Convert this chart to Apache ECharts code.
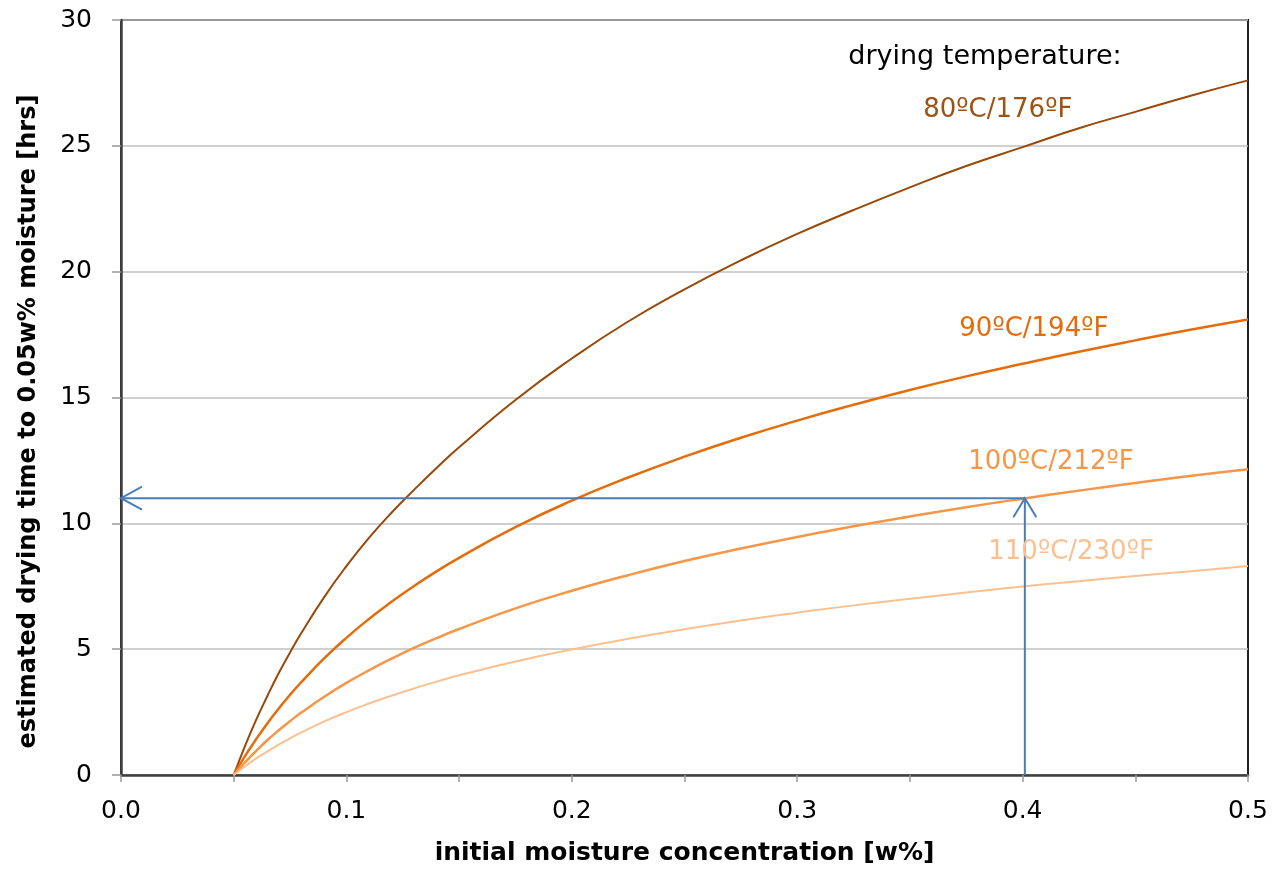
<!DOCTYPE html>
<html>
<head>
<meta charset="utf-8">
<script src="https://cdn.jsdelivr.net/npm/echarts@6/dist/echarts.min.js"></script>
<style>html,body{margin:0;padding:0;background:#fff}#c{width:1282px;height:872px}</style>
</head>
<body>
<div id="c"></div>
<script>
// initial moisture concentration [w%]
const xVals = [0.05, 0.055, 0.06, 0.065, 0.07, 0.075, 0.08, 0.09, 0.1, 0.11, 0.12, 0.13, 0.14, 0.15, 0.175, 0.2, 0.225, 0.25, 0.275, 0.3, 0.325, 0.35, 0.375, 0.4, 0.425, 0.45, 0.475, 0.5];
// estimated drying time [hrs] per drying temperature
const t80  = [0, 1.15, 2.2, 3.15, 4.05, 4.87, 5.64, 7.05, 8.3, 9.42, 10.42, 11.33, 12.2, 13.02, 14.9, 16.55, 18.02, 19.3, 20.45, 21.5, 22.45, 23.35, 24.2, 24.95, 25.7, 26.35, 27.0, 27.6];
const t90  = [0, 0.75, 1.43, 2.06, 2.64, 3.19, 3.69, 4.62, 5.45, 6.2, 6.88, 7.51, 8.09, 8.63, 9.85, 10.9, 11.82, 12.65, 13.4, 14.08, 14.71, 15.3, 15.84, 16.34, 16.82, 17.27, 17.7, 18.1];
const t100 = [0, 0.5, 0.96, 1.39, 1.78, 2.14, 2.48, 3.1, 3.66, 4.16, 4.62, 5.05, 5.44, 5.8, 6.62, 7.32, 7.94, 8.5, 9.0, 9.46, 9.88, 10.27, 10.64, 10.98, 11.3, 11.6, 11.89, 12.15];
const t110 = [0, 0.34, 0.66, 0.94, 1.21, 1.46, 1.69, 2.12, 2.5, 2.84, 3.15, 3.44, 3.71, 3.96, 4.51, 4.99, 5.41, 5.79, 6.14, 6.45, 6.74, 7.0, 7.25, 7.49, 7.7, 7.91, 8.1, 8.3];
const seriesNames = ['80ºC/176ºF', '90ºC/194ºF', '100ºC/212ºF', '110ºC/230ºF'];
// label anchor positions (data coords) for series names
const labelPos = [[0.389, 26.4], [0.405, 17.73], [0.4126, 12.42], [0.4215, 8.85]];
const headerText = 'drying temperature:';
const headerPos = [0.3833, 28.54];
// example read-off path: x = 0.4 w% -> 11 hrs
const guidePath = [[0.401, 0], [0.401, 11], [0, 11]];
const xTicks = [0, 0.1, 0.2, 0.3, 0.4, 0.5];

const FONT = 'DejaVu Sans';
const lineColors = ['#984807', '#e46c0a', '#f79646', '#fac090'];
const textColors = ['#9c5316', '#e46c0a', '#f79646', '#fac090'];
const widths = [2, 2.5, 2.5, 2];
const all = [t80, t90, t100, t110];

const series = all.map((arr, i) => ({
  name: seriesNames[i],
  type: 'line',
  smooth: 0.5,
  smoothConstraint: false,
  showSymbol: false,
  silent: true,
  lineStyle: { color: lineColors[i], width: widths[i], join: 'round' },
  data: xVals.map((x, k) => [x, arr[k]]),
  z: 3
}));

series.push({
  type: 'line',
  silent: true,
  showSymbol: false,
  lineStyle: { color: '#4a7ebb', width: 2 },
  data: guidePath,
  z: 4
});

// arrowheads
series.push({
  type: 'custom',
  silent: true,
  z: 5,
  data: [[guidePath[1][0], guidePath[1][1], 0], [guidePath[2][0], guidePath[2][1], 1]],
  renderItem: function (params, api) {
    const p = api.coord([api.value(0), api.value(1)]);
    const dir = api.value(2);
    let pts;
    if (dir === 0) pts = [[p[0] - 11.5, p[1] + 19], [p[0], p[1]], [p[0] + 11.5, p[1] + 19]];
    else pts = [[p[0] + 21, p[1] - 11.5], [p[0], p[1]], [p[0] + 21, p[1] + 11.5]];
    return { type: 'polyline', shape: { points: pts }, style: { stroke: '#4a7ebb', lineWidth: 2, fill: null } };
  }
});

// text labels
series.push({
  type: 'custom',
  silent: true,
  z: 6,
  data: [[headerPos[0], headerPos[1], -1]].concat(labelPos.map((p, i) => [p[0], p[1], i])),
  renderItem: function (params, api) {
    const p = api.coord([api.value(0), api.value(1)]);
    const i = api.value(2);
    const txt = i < 0 ? headerText : seriesNames[i];
    return {
      type: 'text',
      x: p[0], y: p[1],
      style: {
        text: txt, fill: i < 0 ? '#000' : textColors[i],
        font: (i < 0 ? '27px' : '26px') + ' "' + FONT + '"', align: 'center', verticalAlign: 'middle'
      }
    };
  }
});

const chart = echarts.init(document.getElementById('c'), null, { renderer: 'canvas' });
chart.setOption({
  animation: false,
  backgroundColor: '#fff',
  grid: { left: 121, right: 34, top: 20, bottom: 97, show: true, borderColor: '#222', borderWidth: 2, backgroundColor: 'transparent' },
  xAxis: {
    type: 'value', min: 0, max: 0.5, interval: 0.05,
    name: 'initial moisture concentration [w%]',
    nameLocation: 'middle', nameGap: 66,
    nameTextStyle: { fontFamily: FONT, fontSize: 25, fontWeight: 'bold', color: '#000' },
    axisLine: { lineStyle: { color: '#404040', width: 2.5 } },
    axisTick: { show: true, length: 7, lineStyle: { color: '#999', width: 1.5 } },
    splitLine: { show: false },
    axisLabel: {
      fontFamily: FONT, fontSize: 25, color: '#000', margin: 24,
      formatter: function (v) {
        const r = Math.round(v * 100) / 100;
        return xTicks.some(t => Math.abs(t - r) < 1e-9) ? r.toFixed(1) : '';
      }
    }
  },
  yAxis: {
    type: 'value', min: 0, max: 30, interval: 5,
    name: 'estimated drying time to 0.05w% moisture [hrs]',
    nameLocation: 'middle', nameGap: 80,
    nameTextStyle: { fontFamily: FONT, fontSize: 24, fontWeight: 'bold', color: '#000', padding: [0, 48, 0, 0] },
    axisLine: { show: true, lineStyle: { color: '#404040', width: 2.5 } },
    axisTick: { show: true, length: 9, lineStyle: { color: '#999', width: 1.5 } },
    splitLine: { show: true, lineStyle: { color: '#c0c0c0', width: 1.5 } },
    axisLabel: { fontFamily: FONT, fontSize: 25, color: '#000', margin: 29 }
  },
  series: series
});
</script>
</body>
</html>
